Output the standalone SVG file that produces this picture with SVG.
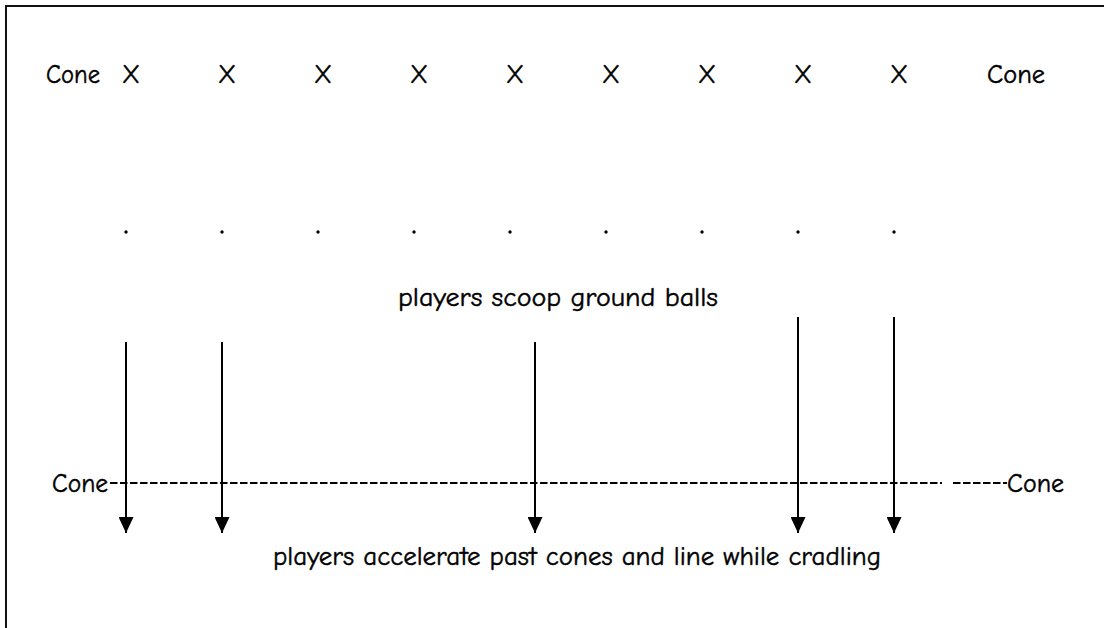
<svg xmlns="http://www.w3.org/2000/svg" width="1104" height="628" viewBox="0 0 1104 628">
  <style>
    .lbl { font-family: "Comic Sans MS", "Comic Neue", "DejaVu Sans", sans-serif; font-size: 26px; fill: #000; stroke: #000; stroke-width: 0.45; }
    .mark { text-anchor: middle; font-size: 26px; }
    .arrow { stroke: #000; stroke-width: 2; fill: none; marker-end: url(#head); }
    .dash { stroke: #000; stroke-width: 2; stroke-dasharray: 7.5 2.5; fill: none; }
  </style>
  <defs>
    <!-- solid triangular arrowhead, tip at the end of the line -->
    <marker id="head" viewBox="0 0 16 15" refX="16" refY="7.5" markerWidth="16" markerHeight="15" markerUnits="userSpaceOnUse" orient="auto">
      <path d="M0,0 L16,7.5 L0,15 Z" fill="#000"/>
    </marker>
  </defs>

  <rect width="1104" height="628" fill="#fff"/>
  <!-- frame, running off the right and bottom edges -->
  <rect x="6" y="6" width="1120" height="650" fill="none" stroke="#111" stroke-width="2"/>

  <!-- row of players at the top -->
  <g id="top-row">
    <text class="lbl" x="46" y="83" textLength="54" lengthAdjust="spacingAndGlyphs">Cone</text>
    <text class="lbl mark" x="131" y="83">X</text>
    <text class="lbl mark" x="227" y="83">X</text>
    <text class="lbl mark" x="323" y="83">X</text>
    <text class="lbl mark" x="419" y="83">X</text>
    <text class="lbl mark" x="515" y="83">X</text>
    <text class="lbl mark" x="611" y="83">X</text>
    <text class="lbl mark" x="707" y="83">X</text>
    <text class="lbl mark" x="803" y="83">X</text>
    <text class="lbl mark" x="899" y="83">X</text>
    <text class="lbl" x="987" y="83" textLength="58" lengthAdjust="spacingAndGlyphs">Cone</text>
  </g>

  <!-- ground balls -->
  <g id="balls" fill="#000">
    <circle cx="126" cy="232" r="1.7"/>
    <circle cx="222" cy="232" r="1.7"/>
    <circle cx="318" cy="232" r="1.7"/>
    <circle cx="414" cy="232" r="1.7"/>
    <circle cx="510" cy="232" r="1.7"/>
    <circle cx="606" cy="232" r="1.7"/>
    <circle cx="702" cy="232" r="1.7"/>
    <circle cx="798" cy="232" r="1.7"/>
    <circle cx="894" cy="232" r="1.7"/>
  </g>

  <g id="scoop-label">
    <text class="lbl" x="398" y="306" textLength="320" lengthAdjust="spacingAndGlyphs">players scoop ground balls</text>
  </g>

  <!-- end line with cones -->
  <g id="end-line">
    <text class="lbl" x="52" y="492" textLength="56" lengthAdjust="spacingAndGlyphs">Cone</text>
    <line class="dash" x1="110" y1="483" x2="942" y2="483"/>
    <line class="dash" x1="953" y1="483" x2="1007" y2="483"/>
    <text class="lbl" x="1007" y="492" textLength="57" lengthAdjust="spacingAndGlyphs">Cone</text>
  </g>

  <!-- player runs -->
  <g id="connectors">
    <line class="arrow" x1="126" y1="342" x2="126" y2="533"/>
    <line class="arrow" x1="222" y1="342" x2="222" y2="533"/>
    <line class="arrow" x1="535" y1="342" x2="535" y2="533"/>
    <line class="arrow" x1="798" y1="317" x2="798" y2="533"/>
    <line class="arrow" x1="894" y1="317" x2="894" y2="533"/>
  </g>

  <g id="finish-label">
    <text class="lbl" x="273" y="565" textLength="608" lengthAdjust="spacingAndGlyphs">players accelerate past cones and line while cradling</text>
  </g>
</svg>
